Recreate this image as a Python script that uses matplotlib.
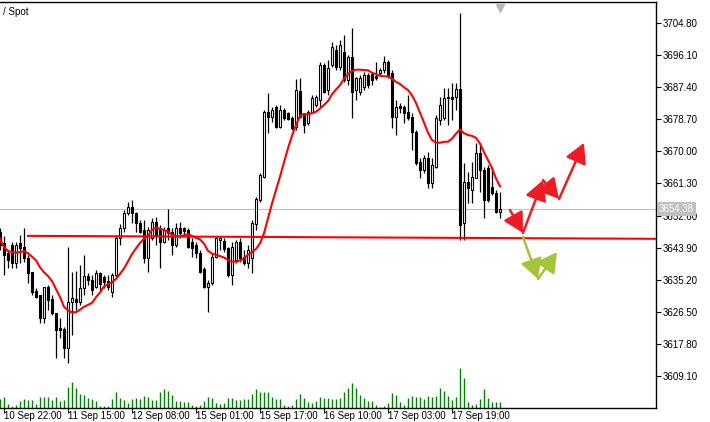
import pandas as pd
import matplotlib
matplotlib.use("Agg")
import matplotlib.pyplot as plt
import matplotlib.transforms as mtransforms
from matplotlib.patches import FancyArrowPatch

# hourly bars, left to right (first bar is half cut by the left edge)
opens = [3648.1, 3645.2, 3642.5, 3644.6, 3639.7, 3645.2, 3644.1, 3641.1, 3637.3, 3632.2,
         3631.1, 3624.8, 3633.2, 3630.0, 3626.2, 3622.1, 3621.9, 3616.7, 3629.2, 3630.0,
         3629.2, 3633.0, 3636.2, 3635.1, 3633.2, 3637.0, 3636.0, 3634.9, 3631.9, 3636.5,
         3646.5, 3649.2, 3653.3, 3654.9, 3653.3, 3650.6, 3648.7, 3641.1, 3646.5, 3650.9,
         3649.2, 3645.4, 3649.2, 3648.1, 3644.6, 3649.2, 3649.2, 3648.7, 3645.4, 3644.6,
         3642.5, 3638.1, 3633.2, 3634.3, 3641.4, 3646.0, 3645.7, 3643.8, 3636.5, 3640.6,
         3645.4, 3641.4, 3639.7, 3641.1, 3650.3, 3656.8, 3663.1, 3680.7, 3679.3, 3682.0,
         3676.6, 3681.2, 3680.4, 3679.1, 3676.6, 3686.4, 3679.9, 3677.7, 3680.7, 3682.6,
         3683.9, 3693.4, 3686.6, 3693.4, 3697.5, 3692.9, 3696.9, 3689.4, 3695.6, 3686.6,
         3686.1, 3687.4, 3690.7, 3691.0, 3690.4, 3691.3, 3692.1, 3694.2, 3691.3, 3679.3,
         3682.3, 3682.0, 3680.7, 3679.3, 3675.3, 3667.1, 3665.0, 3668.2, 3661.4, 3665.8,
         3678.5, 3679.1, 3684.7, 3684.7, 3684.7, 3686.9, 3650.6, 3661.7, 3659.5, 3662.8,
         3669.6, 3665.0, 3665.5, 3660.3, 3658.7, 3653.6]
highs = [3649.2, 3647.1, 3643.3, 3645.4, 3645.4, 3647.3, 3649.2, 3641.9, 3637.3, 3633.0,
         3631.1, 3633.2, 3633.8, 3631.1, 3626.2, 3624.8, 3622.4, 3644.1, 3637.3, 3637.6,
         3639.2, 3641.9, 3637.0, 3636.5, 3637.8, 3637.3, 3636.5, 3636.5, 3637.0, 3647.3,
         3650.3, 3654.1, 3656.3, 3656.8, 3653.6, 3651.4, 3651.4, 3649.5, 3651.9, 3652.2,
         3650.0, 3649.5, 3654.4, 3649.2, 3650.6, 3650.9, 3649.5, 3649.2, 3646.5, 3645.4,
         3643.3, 3638.7, 3635.1, 3642.5, 3646.8, 3646.8, 3646.5, 3644.1, 3645.4, 3646.0,
         3646.5, 3643.3, 3644.6, 3651.4, 3657.6, 3664.1, 3681.2, 3685.8, 3682.0, 3682.6,
         3682.6, 3681.8, 3680.7, 3679.6, 3689.6, 3689.9, 3680.4, 3681.2, 3685.3, 3685.3,
         3694.2, 3694.0, 3694.8, 3699.7, 3698.8, 3700.2, 3701.6, 3696.1, 3703.4, 3690.2,
         3690.7, 3691.5, 3691.3, 3691.5, 3694.2, 3692.6, 3695.9, 3694.8, 3692.1, 3683.9,
         3683.1, 3682.6, 3685.3, 3680.4, 3675.8, 3668.2, 3669.0, 3669.8, 3668.2, 3679.9,
         3684.7, 3687.2, 3687.2, 3688.5, 3688.5, 3707.5, 3666.9, 3664.4, 3667.1, 3672.3,
         3672.3, 3665.8, 3666.3, 3665.8, 3659.5, 3659.0]
lows = [3643.3, 3636.5, 3638.4, 3638.4, 3638.4, 3639.7, 3640.0, 3634.3, 3631.1, 3630.3,
        3623.5, 3623.5, 3627.0, 3625.6, 3614.0, 3619.4, 3614.0, 3612.6, 3620.2, 3627.0,
        3628.4, 3631.1, 3633.8, 3631.1, 3633.0, 3632.4, 3633.0, 3632.4, 3630.5, 3636.0,
        3644.6, 3648.1, 3652.8, 3650.6, 3648.1, 3647.9, 3639.7, 3637.3, 3646.0, 3644.6,
        3638.4, 3645.2, 3646.0, 3641.9, 3644.1, 3646.5, 3647.3, 3643.8, 3641.4, 3641.1,
        3637.0, 3633.0, 3626.5, 3633.8, 3641.1, 3643.3, 3642.7, 3636.0, 3633.8, 3639.7,
        3640.0, 3639.2, 3638.4, 3637.0, 3648.7, 3656.3, 3662.8, 3675.0, 3678.0, 3676.3,
        3676.3, 3678.5, 3678.5, 3675.8, 3675.8, 3679.1, 3675.0, 3677.2, 3680.4, 3682.0,
        3682.0, 3685.8, 3685.3, 3692.9, 3692.1, 3692.1, 3688.8, 3688.0, 3679.1, 3683.9,
        3685.3, 3686.6, 3687.2, 3688.0, 3689.4, 3690.7, 3691.3, 3689.9, 3676.3, 3674.4,
        3680.4, 3677.7, 3678.5, 3670.4, 3666.3, 3662.8, 3664.1, 3660.1, 3660.1, 3665.5,
        3677.2, 3678.5, 3677.2, 3678.5, 3681.2, 3645.9, 3645.9, 3656.0, 3656.0, 3662.8,
        3659.0, 3651.9, 3656.3, 3658.2, 3653.3, 3651.9]
closes = [3644.6, 3641.9, 3640.6, 3639.7, 3644.6, 3643.8, 3641.1, 3637.0, 3631.9, 3630.5,
          3624.8, 3633.2, 3629.7, 3626.2, 3621.6, 3621.6, 3616.7, 3629.2, 3630.3, 3629.2,
          3633.0, 3636.2, 3635.1, 3632.4, 3637.0, 3634.1, 3634.6, 3633.2, 3636.5, 3646.5,
          3649.2, 3653.3, 3654.9, 3653.3, 3650.6, 3648.1, 3641.1, 3648.7, 3650.9, 3647.3,
          3645.4, 3648.7, 3647.9, 3644.6, 3649.2, 3647.9, 3648.4, 3644.1, 3643.8, 3642.5,
          3637.3, 3633.2, 3634.3, 3641.4, 3646.5, 3646.5, 3643.5, 3636.5, 3644.1, 3645.4,
          3641.1, 3639.7, 3643.3, 3650.6, 3657.1, 3663.6, 3680.7, 3679.3, 3681.2, 3676.6,
          3681.2, 3679.1, 3678.8, 3676.3, 3686.6, 3679.3, 3677.2, 3680.7, 3684.5, 3684.7,
          3693.4, 3686.1, 3692.6, 3698.3, 3692.9, 3698.8, 3689.4, 3695.6, 3686.1, 3689.9,
          3689.9, 3690.7, 3688.0, 3689.4, 3689.9, 3692.1, 3694.2, 3690.4, 3679.3, 3682.0,
          3681.8, 3680.4, 3679.1, 3675.3, 3666.9, 3665.0, 3668.2, 3661.4, 3666.3, 3679.1,
          3682.6, 3684.5, 3684.5, 3684.2, 3686.9, 3650.0, 3661.7, 3660.1, 3663.1, 3669.6,
          3665.0, 3656.8, 3656.8, 3658.7, 3653.6, 3654.4]
volumes = [870, 1100, 370, 170, 300, 700, 900, 770, 770, 370,
           1100, 1070, 1070, 770, 1070, 700, 770, 2100, 2570, 1970,
           1430, 1270, 1030, 870, 700, 200, 200, 200, 870, 1570,
           970, 830, 500, 900, 970, 900, 1170, 1100, 800, 800,
           1570, 1900, 1730, 1270, 730, 730, 630, 630, 270, 170,
           300, 700, 1070, 970, 530, 430, 500, 1000, 1030, 830,
           830, 930, 870, 1430, 1870, 1570, 1570, 1570, 1070, 870,
           870, 330, 200, 270, 870, 1370, 1030, 630, 530, 700,
           1070, 1030, 970, 930, 870, 970, 1600, 2000, 2500, 2030,
           1270, 1000, 670, 670, 270, 100, 170, 500, 1470, 1270,
           570, 300, 970, 1170, 1070, 1070, 900, 1170, 1100, 1170,
           1970, 1700, 1170, 800, 1070, 3970, 2970, 570, 270, 370,
           870, 1870, 970, 570, 570, 570]

time_labels = ["10 Sep 22:00", "11 Sep 15:00", "12 Sep 08:00", "15 Sep 01:00",
               "15 Sep 17:00", "16 Sep 10:00", "17 Sep 03:00", "17 Sep 19:00"]
label_bars = [1, 17, 33, 49, 65, 81, 97, 113]
price_ticks = [3609.10, 3617.80, 3626.50, 3635.20, 3643.90, 3652.60,
               3661.30, 3670.00, 3678.70, 3687.40, 3696.10, 3704.80]
bid = 3654.38
level_bars = [7, 164]
level_prices = [3647.1, 3646.3]
red_bars = [127.5, 130.75, 135.75, 139.75, 146.0]
red_prices = [3654.1, 3647.9, 3662.2, 3657.1, 3672.3]
green_bars = [130.75, 134.5, 139.25]
green_prices = [3646.8, 3635.4, 3642.7]

FONT = "Liberation Sans"

fig = plt.figure(figsize=(7.1, 4.22), dpi=100)
ax = fig.add_axes([0, 14 / 422, 656 / 710, 406 / 422])

x = list(range(len(closes)))
df = pd.DataFrame({"o": opens, "h": highs, "l": lows, "c": closes}, index=x)
bull = df[df.c >= df.o]
bear = df[df.c < df.o]

ax.vlines(x, df.l, df.h, color="black", lw=0.9, zorder=2)
ax.bar(bull.index, bull.c - bull.o, bottom=bull.o, width=0.62,
       facecolor="white", edgecolor="black", lw=0.8, zorder=3)
ax.bar(bear.index, bear.o - bear.c, bottom=bear.c, width=0.62,
       facecolor="black", edgecolor="black", lw=0.8, zorder=3)

# moving average of median price
ma = ((df.h + df.l) / 2).rolling(10, min_periods=1).mean()
ax.plot(x, ma, color="#ff0000", lw=1.5, zorder=4)

# volumes along the bottom
ax.vlines(x, 0, [v / 40600 for v in volumes], color="#008000", lw=1,
          transform=ax.get_xaxis_transform(), zorder=1)

ax.axhline(bid, color="#c0c0c0", lw=0.8, zorder=1)
ax.plot(level_bars, level_prices, color="#ff0000", lw=1.5, zorder=4)

for pts, col in [((red_bars, red_prices), "#ec1c24"), ((green_bars, green_prices), "#a4c43a")]:
    xs, ys = pts
    for i in range(len(xs) - 1):
        arr = FancyArrowPatch((xs[i], ys[i]), (xs[i + 1], ys[i + 1]),
                              arrowstyle="-|>,head_length=1.0,head_width=0.55",
                              mutation_scale=12, color=col, lw=1.8,
                              shrinkA=0, shrinkB=0, zorder=5)
        ax.add_patch(arr)

ax.set_xlim(0, 164)
ax.set_ylim(3600.43, 3710.50)

ax.yaxis.tick_right()
ax.set_yticks(price_ticks)
ax.set_yticklabels([f"{p:.2f}" for p in price_ticks], fontfamily=FONT, fontsize=7)
ax.set_xticks(label_bars)
ax.set_xticklabels(time_labels, fontfamily=FONT, fontsize=7, ha="left")
ax.tick_params(axis="both", direction="out", length=3.5, width=0.8)
ax.tick_params(axis="y", pad=1.5)
ax.tick_params(axis="x", pad=-1.0)
for s in ["top", "right", "bottom"]:
    ax.spines[s].set_linewidth(1)
ax.spines["left"].set_visible(False)

# current price box on the scale
tr = mtransforms.blended_transform_factory(ax.transAxes, ax.transData)
ax.text(1.004, bid, "3654.38", transform=tr, fontfamily=FONT, fontsize=7,
        color="white", va="center", ha="left", zorder=10, clip_on=False,
        bbox=dict(boxstyle="square,pad=0.2", facecolor="#c0c0c0", edgecolor="none"))

# shift marker at top
ax.plot([125], [0.985], marker="v", color="#b8b8b8", markersize=6,
        transform=ax.get_xaxis_transform(), clip_on=False, zorder=6)

ax.text(0.004, 0.975, "/ Spot", transform=ax.transAxes, fontfamily=FONT,
        fontsize=7, va="center", ha="left")

fig.savefig("out.png", dpi=100)
